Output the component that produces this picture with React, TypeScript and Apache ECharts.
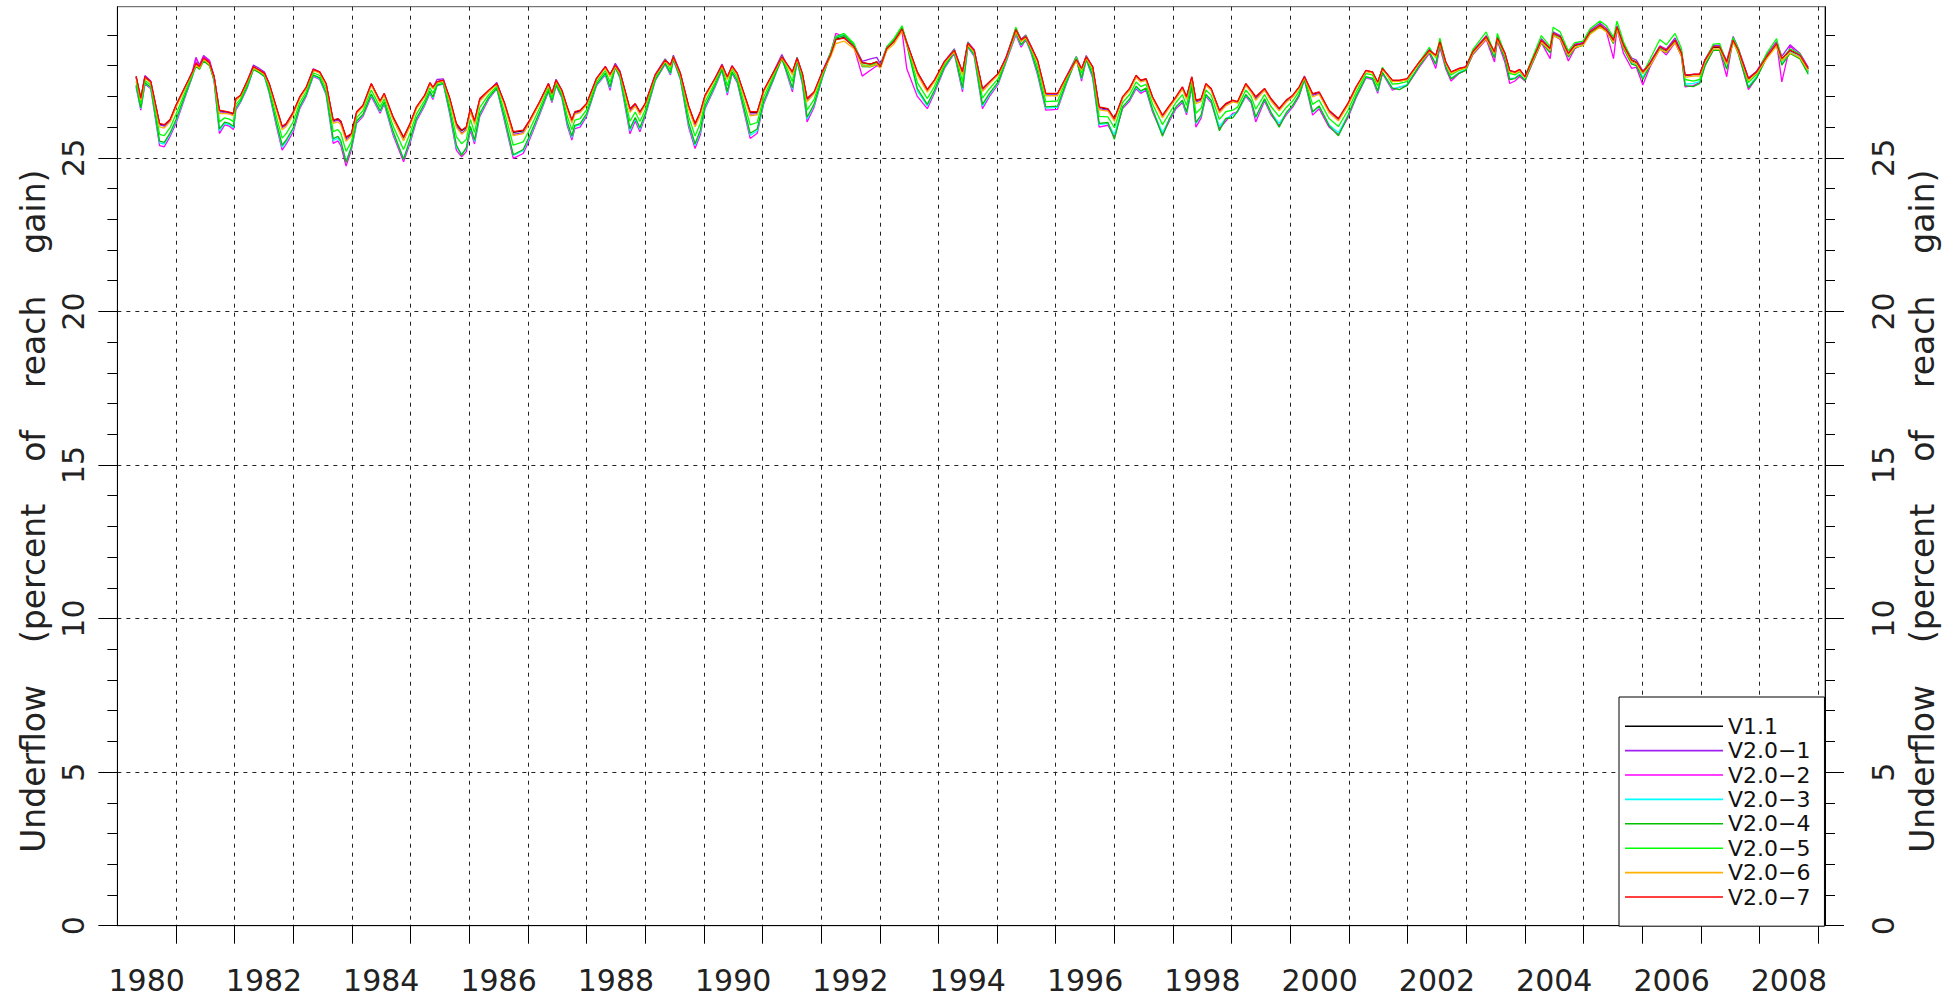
import React, { useEffect, useRef } from "react";
import * as echarts from "echarts";

// Time (decimal years) of the sampled points, shared by all series
const years = [
  1980.32,1980.40,1980.47,1980.57,1980.72,1980.80,1980.90,1981.00,1981.15,1981.28,
  1981.34,1981.40,1981.47,1981.57,1981.65,1981.74,1981.83,1981.91,1981.98,1982.02,
  1982.10,1982.22,1982.32,1982.42,1982.51,1982.59,1982.71,1982.81,1982.88,1983.00,
  1983.11,1983.22,1983.34,1983.45,1983.56,1983.68,1983.76,1983.81,1983.90,1983.99,
  1984.08,1984.19,1984.33,1984.48,1984.55,1984.70,1984.88,1984.99,1985.10,1985.24,
  1985.33,1985.38,1985.45,1985.56,1985.67,1985.78,1985.87,1985.95,1986.02,1986.09,
  1986.18,1986.33,1986.47,1986.60,1986.75,1986.92,1987.03,1987.20,1987.35,1987.41,
  1987.48,1987.58,1987.67,1987.75,1987.80,1987.89,1988.00,1988.17,1988.32,1988.40,
  1988.49,1988.57,1988.74,1988.83,1988.91,1989.00,1989.17,1989.34,1989.43,1989.48,
  1989.60,1989.74,1989.85,1989.94,1990.02,1990.19,1990.31,1990.40,1990.48,1990.57,
  1990.79,1990.91,1991.02,1991.19,1991.33,1991.42,1991.51,1991.59,1991.68,1991.76,
  1991.88,1992.02,1992.16,1992.25,1992.39,1992.56,1992.70,1992.84,1992.95,1993.01,
  1993.12,1993.24,1993.38,1993.46,1993.64,1993.81,1993.93,1994.10,1994.27,1994.41,
  1994.50,1994.61,1994.75,1994.87,1995.02,1995.15,1995.32,1995.41,1995.49,1995.58,
  1995.69,1995.83,1996.03,1996.18,1996.35,1996.44,1996.52,1996.63,1996.74,1996.89,
  1997.00,1997.14,1997.26,1997.37,1997.45,1997.54,1997.65,1997.82,1997.94,1998.05,
  1998.16,1998.23,1998.32,1998.39,1998.48,1998.56,1998.65,1998.79,1998.90,1999.02,
  1999.10,1999.24,1999.33,1999.41,1999.56,1999.67,1999.81,1999.93,2000.04,2000.15,
  2000.24,2000.38,2000.49,2000.66,2000.82,2000.98,2001.12,2001.29,2001.40,2001.49,
  2001.57,2001.74,2001.86,2001.99,2002.20,2002.37,2002.48,2002.55,2002.65,2002.74,
  2002.88,2002.99,2003.11,2003.34,2003.48,2003.53,2003.66,2003.74,2003.83,2003.91,
  2004.00,2004.11,2004.28,2004.43,2004.48,2004.60,2004.74,2004.85,2004.99,2005.11,
  2005.28,2005.39,2005.51,2005.57,2005.68,2005.82,2005.90,2006.01,2006.13,2006.30,
  2006.41,2006.56,2006.67,2006.73,2006.87,2006.98,2007.07,2007.21,2007.32,2007.44,
  2007.55,2007.64,2007.81,2007.95,2008.12,2008.29,2008.38,2008.52,2008.69,2008.83,
];

// V1.1
const v1_1 = [
  27.64,26.92,27.62,27.46,26.10,26.06,26.23,26.70,27.28,27.78,
  28.10,27.96,28.26,28.11,27.63,26.53,26.50,26.47,26.43,26.91,
  27.02,27.51,27.96,27.85,27.74,27.40,26.64,26.01,26.10,26.48,
  26.97,27.28,27.86,27.78,27.40,26.21,26.26,26.18,25.66,25.77,
  26.48,26.70,27.40,26.83,27.08,26.32,25.66,26.10,26.64,27.02,
  27.43,27.28,27.47,27.52,26.91,26.10,25.88,25.99,26.59,26.18,
  26.91,27.18,27.41,26.78,25.83,25.88,26.21,26.81,27.40,27.08,
  27.52,27.18,26.64,26.21,26.48,26.53,26.75,27.57,27.95,27.70,
  28.01,27.78,26.58,26.75,26.48,26.75,27.68,28.17,28.00,28.28,
  27.73,26.68,26.10,26.48,27.02,27.57,28.01,27.62,27.97,27.73,
  26.48,26.48,27.18,27.78,28.29,28.03,27.78,28.23,27.73,26.91,
  27.13,27.78,28.36,28.86,28.91,28.62,28.10,28.05,28.12,27.97,
  28.57,28.79,29.20,28.74,27.78,27.21,27.51,28.11,28.49,27.78,
  28.72,28.48,27.24,27.46,27.73,28.23,29.17,28.82,28.94,28.60,
  28.16,27.08,27.08,27.62,28.21,27.89,28.28,27.95,26.64,26.58,
  26.26,26.97,27.24,27.67,27.51,27.56,26.97,26.37,26.69,26.97,
  27.29,26.97,27.62,26.86,26.91,27.40,27.24,26.53,26.75,26.86,
  26.81,27.40,27.18,26.97,27.24,26.91,26.59,26.86,27.02,27.29,
  27.63,27.07,27.13,26.53,26.26,26.75,27.29,27.83,27.78,27.45,
  27.90,27.51,27.51,27.56,28.10,28.49,28.32,28.77,28.10,27.78,
  27.90,27.95,28.44,28.93,28.43,28.89,28.38,27.83,27.78,27.86,
  27.63,28.11,28.82,28.54,29.04,28.94,28.38,28.66,28.72,29.09,
  29.31,29.15,28.82,29.25,28.66,28.17,28.11,27.79,28.06,28.60,
  28.49,28.82,28.39,27.68,27.71,27.71,28.17,28.60,28.60,28.11,
  28.83,28.49,27.57,27.79,28.29,28.72,28.22,28.50,28.34,27.90,
];

// V2.0-1
const v2_0_1 = [
  27.62,26.90,27.68,27.50,26.07,26.03,26.20,26.67,27.26,27.82,
  28.27,28.02,28.33,28.18,27.66,26.50,26.48,26.45,26.40,26.89,
  27.01,27.52,28.02,27.91,27.79,27.40,26.61,25.98,26.07,26.45,
  26.95,27.27,27.90,27.80,27.38,26.18,26.23,26.15,25.60,25.74,
  26.46,26.68,27.40,26.82,27.07,26.28,25.57,26.06,26.62,27.01,
  27.44,27.27,27.55,27.57,26.88,26.04,25.80,25.93,26.55,26.14,
  26.88,27.18,27.45,26.75,25.76,25.82,26.18,26.79,27.42,27.08,
  27.56,27.19,26.61,26.18,26.45,26.50,26.73,27.59,27.98,27.68,
  28.08,27.82,26.52,26.72,26.45,26.73,27.71,28.22,28.00,28.34,
  27.76,26.64,26.04,26.44,27.00,27.58,28.05,27.59,28.00,27.74,
  26.42,26.44,27.16,27.80,28.36,28.02,27.75,28.28,27.72,26.87,
  27.11,27.81,28.42,28.95,29.00,28.68,28.14,28.22,28.27,28.05,
  28.62,28.85,29.22,28.78,27.74,27.18,27.49,28.13,28.55,27.75,
  28.77,28.52,27.21,27.44,27.73,28.27,29.22,28.86,29.00,28.64,
  28.15,27.05,27.05,27.64,28.30,27.88,28.33,27.95,26.60,26.55,
  26.23,26.95,27.22,27.65,27.49,27.54,26.95,26.34,26.67,26.95,
  27.27,26.94,27.61,26.82,26.88,27.38,27.22,26.50,26.72,26.85,
  26.80,27.38,27.16,26.92,27.22,26.88,26.56,26.83,27.00,27.28,
  27.66,27.03,27.10,26.50,26.23,26.72,27.28,27.84,27.79,27.44,
  27.92,27.50,27.50,27.55,28.12,28.53,28.32,28.80,28.12,27.78,
  27.91,27.96,28.47,28.98,28.44,28.95,28.40,27.83,27.78,27.87,
  27.64,28.14,28.88,28.56,29.10,28.98,28.40,28.70,28.76,29.15,
  29.38,29.22,28.88,29.30,28.70,28.25,28.18,27.82,28.10,28.65,
  28.54,28.90,28.45,27.70,27.72,27.72,28.20,28.66,28.66,28.15,
  28.95,28.56,27.60,27.82,28.35,28.78,28.30,28.68,28.40,27.95,
];

// V2.0-2
const v2_0_2 = [
  27.30,26.55,27.40,27.25,25.40,25.36,25.70,26.12,26.95,27.65,
  28.25,27.95,28.30,28.15,27.50,25.79,26.07,26.03,25.92,26.55,
  26.80,27.30,27.90,27.80,27.65,27.10,26.05,25.25,25.45,25.85,
  26.60,27.00,27.65,27.55,27.05,25.47,25.55,25.40,24.73,25.25,
  26.12,26.35,27.00,26.45,26.75,25.75,24.87,25.47,26.20,26.70,
  27.10,26.90,27.35,27.40,26.40,25.25,25.03,25.20,25.90,25.45,
  26.35,26.90,27.25,26.20,24.98,25.14,25.60,26.40,27.15,26.80,
  27.35,26.95,26.05,25.58,25.95,26.00,26.35,27.35,27.70,27.20,
  27.95,27.60,25.78,26.20,25.85,26.35,27.50,28.05,27.70,28.20,
  27.55,26.00,25.30,25.75,26.60,27.30,27.85,27.04,27.75,27.45,
  25.63,25.80,26.75,27.55,28.30,27.70,27.15,28.15,27.40,26.17,
  26.65,27.60,28.40,29.05,28.95,28.60,27.66,27.85,28.00,27.95,
  28.55,28.85,29.10,27.90,27.00,26.60,27.10,27.90,28.40,27.15,
  28.60,28.30,26.60,27.00,27.40,28.10,29.00,28.60,28.85,28.40,
  27.70,26.55,26.58,27.40,28.25,27.50,28.20,27.60,26.00,26.06,
  25.68,26.60,26.85,27.25,27.10,27.20,26.50,25.75,26.20,26.60,
  26.80,26.40,27.30,26.00,26.30,27.00,26.80,25.95,26.20,26.45,
  26.50,27.00,26.80,26.17,26.85,26.40,26.05,26.40,26.65,27.00,
  27.55,26.39,26.60,26.00,25.75,26.30,26.95,27.60,27.55,27.10,
  27.75,27.20,27.30,27.35,27.95,28.40,27.91,28.60,27.90,27.50,
  27.75,27.85,28.35,28.85,28.12,28.80,28.10,27.42,27.50,27.65,
  27.50,28.00,28.75,28.23,29.00,28.85,28.15,28.55,28.70,29.05,
  29.30,29.10,28.23,29.20,28.40,27.91,27.95,27.37,27.95,28.55,
  28.35,28.75,28.30,27.31,27.35,27.45,28.00,28.50,28.50,27.64,
  28.90,28.40,27.22,27.60,28.30,28.75,27.47,28.65,28.30,27.80,
];

// V2.0-3
const v2_0_3 = [
  27.34,26.60,27.43,27.28,25.49,25.45,25.77,26.19,26.99,27.67,
  28.00,27.90,28.18,28.03,27.51,25.88,26.12,26.08,25.98,26.60,
  26.83,27.33,27.89,27.78,27.64,27.13,26.12,25.34,25.53,25.93,
  26.65,27.04,27.68,27.58,27.09,25.56,25.64,25.50,24.90,25.32,
  26.17,26.40,27.05,26.50,26.79,25.82,24.98,25.55,26.26,26.74,
  27.14,26.95,27.36,27.41,26.47,25.35,25.13,25.30,25.98,25.53,
  26.41,26.94,27.27,26.27,25.08,25.23,25.67,26.45,27.18,26.84,
  27.37,26.98,26.12,25.66,26.02,26.07,26.40,27.38,27.73,27.27,
  27.96,27.62,25.88,26.27,25.93,26.40,27.52,28.07,27.73,28.21,
  27.57,26.08,25.40,25.84,26.65,27.33,27.87,27.11,27.78,27.49,
  25.73,25.88,26.80,27.58,28.25,27.75,27.23,28.16,27.44,26.26,
  26.71,27.62,28.38,28.92,29.00,28.67,28.00,27.99,28.07,27.95,
  28.58,28.85,29.26,28.72,27.18,26.69,27.16,27.93,28.43,27.23,
  28.62,28.33,26.68,27.06,27.44,28.13,29.05,28.66,28.87,28.44,
  27.76,26.62,26.64,27.43,28.22,27.57,28.21,27.65,26.08,26.12,
  25.75,26.65,26.90,27.30,27.15,27.24,26.56,25.82,26.26,26.65,
  26.86,26.46,27.34,26.12,26.37,27.04,26.85,26.02,26.28,26.40,
  26.50,27.04,26.84,26.30,26.90,26.46,26.12,26.45,26.70,27.04,
  27.57,26.48,26.67,26.08,25.82,26.36,27.00,27.63,27.58,27.16,
  27.77,27.25,27.30,27.38,28.00,28.45,28.05,28.70,27.97,27.58,
  27.78,27.87,28.40,28.92,28.27,28.87,28.25,27.58,27.60,27.72,
  27.54,28.04,28.78,28.45,29.03,28.90,28.30,28.60,28.70,29.08,
  29.32,29.14,28.75,29.22,28.58,28.10,28.04,27.62,28.02,28.58,
  28.45,28.80,28.35,27.40,27.42,27.48,28.05,28.54,28.53,27.92,
  28.83,28.42,27.32,27.64,28.28,28.72,28.08,28.45,28.28,27.76,
];

// V2.0-4
const v2_0_4 = [
  27.37,26.63,27.45,27.30,25.54,25.50,25.81,26.24,27.02,27.68,
  27.98,27.88,28.15,28.00,27.52,25.94,26.16,26.12,26.03,26.63,
  26.85,27.35,27.88,27.77,27.65,27.16,26.17,25.41,25.58,25.98,
  26.68,27.06,27.70,27.60,27.12,25.62,25.70,25.56,24.85,25.36,
  26.20,26.42,27.08,26.53,26.82,25.87,24.95,25.60,26.29,26.77,
  27.17,26.98,27.37,27.42,26.51,25.42,25.08,25.33,26.02,25.58,
  26.45,26.96,27.28,26.32,25.10,25.27,25.72,26.49,27.20,26.86,
  27.39,27.00,26.17,25.71,26.06,26.11,26.43,27.40,27.76,27.31,
  27.95,27.64,25.95,26.31,25.98,26.43,27.54,28.08,27.76,28.22,
  27.59,26.14,25.46,25.90,26.69,27.36,27.88,27.16,27.80,27.51,
  25.80,25.94,26.84,27.60,28.22,27.78,27.28,28.17,27.47,26.32,
  26.75,27.64,28.35,28.90,28.98,28.66,27.97,27.96,28.04,27.93,
  28.55,28.82,29.24,28.68,27.25,26.74,27.19,27.95,28.44,27.28,
  28.64,28.35,26.74,27.10,27.47,28.14,29.08,28.68,28.88,28.46,
  27.80,26.66,26.68,27.45,28.20,27.60,28.22,27.68,26.12,26.15,
  25.60,26.66,26.92,27.33,27.18,27.27,26.58,25.70,26.28,26.66,
  26.88,26.49,27.35,26.15,26.40,27.06,26.88,25.88,26.28,26.30,
  26.52,27.06,26.86,26.33,26.92,26.48,26.00,26.47,26.71,27.05,
  27.57,26.50,26.69,26.05,25.72,26.36,27.00,27.64,27.59,27.18,
  27.78,27.27,27.22,27.36,28.00,28.44,28.05,28.70,27.96,27.57,
  27.76,27.85,28.38,28.90,28.25,28.85,28.22,27.55,27.58,27.70,
  27.52,28.02,28.75,28.42,29.00,28.88,28.28,28.58,28.66,29.05,
  29.28,29.12,28.72,29.20,28.55,28.05,28.00,27.55,28.00,28.55,
  28.42,28.78,28.32,27.35,27.32,27.42,28.00,28.50,28.50,27.88,
  28.80,28.38,27.28,27.60,28.25,28.68,28.02,28.40,28.22,27.72,
];

// V2.0-5
const v2_0_5 = [
  27.48,26.75,27.52,27.37,25.76,25.72,25.98,26.42,27.12,27.72,
  28.05,27.93,28.20,28.05,27.56,26.17,26.30,26.26,26.18,26.74,
  26.92,27.42,27.92,27.81,27.69,27.26,26.36,25.64,25.79,26.18,
  26.80,27.15,27.77,27.68,27.24,25.85,25.92,25.80,25.21,25.52,
  26.31,26.54,27.21,26.65,26.92,26.04,25.27,25.80,26.43,26.87,
  27.28,27.10,27.42,27.47,26.67,25.69,25.46,25.60,26.25,25.82,
  26.64,27.05,27.33,26.50,25.41,25.52,25.92,26.62,27.29,26.95,
  27.44,27.08,26.36,25.91,26.23,26.28,26.56,27.47,27.84,27.46,
  27.99,27.70,26.19,26.49,26.18,26.56,27.60,28.20,27.86,28.30,
  27.65,26.35,25.71,26.12,26.82,27.44,27.99,27.34,27.90,27.60,
  26.07,26.15,26.98,27.68,28.30,27.90,27.48,28.26,27.58,26.55,
  26.90,27.70,28.42,28.95,29.05,28.72,28.02,28.02,28.10,27.98,
  28.62,28.88,29.30,28.76,27.45,26.93,27.32,28.03,28.52,27.48,
  28.75,28.42,26.94,27.25,27.58,28.20,29.25,28.80,28.98,28.55,
  27.95,26.83,26.85,27.54,28.28,27.75,28.30,27.80,26.35,26.33,
  25.98,26.80,27.06,27.47,27.32,27.39,26.75,26.08,26.46,26.80,
  27.06,26.70,27.47,26.45,26.62,27.21,27.04,26.25,26.50,26.55,
  26.65,27.21,27.00,26.58,27.06,26.67,26.34,26.64,26.85,27.16,
  27.62,26.74,26.88,26.28,26.02,26.54,27.13,27.74,27.70,27.33,
  27.95,27.40,27.42,27.48,28.12,28.60,28.25,28.90,28.10,27.70,
  27.85,27.92,28.52,29.10,28.40,29.05,28.38,27.75,27.70,27.80,
  27.62,28.18,28.98,28.62,29.25,29.10,28.48,28.75,28.80,29.20,
  29.45,29.30,28.92,29.45,28.78,28.20,28.12,27.75,28.20,28.85,
  28.68,29.05,28.55,27.55,27.50,27.55,28.15,28.70,28.72,28.05,
  28.92,28.55,27.45,27.72,28.40,28.88,28.20,28.55,28.38,27.82,
];

// V2.0-6
const v2_0_6 = [
  27.60,26.88,27.60,27.44,26.01,25.97,26.17,26.63,27.25,27.77,
  28.02,27.92,28.20,28.05,27.60,26.44,26.45,26.42,26.37,26.87,
  27.00,27.50,27.93,27.82,27.71,27.37,26.57,25.91,26.02,26.40,
  26.93,27.26,27.85,27.76,27.36,26.12,26.17,26.08,25.54,25.71,
  26.44,26.66,27.36,26.79,27.05,26.25,25.56,26.02,26.59,26.99,
  27.40,27.24,27.45,27.50,26.85,25.99,25.77,25.89,26.50,26.09,
  26.84,27.15,27.39,26.71,25.72,25.79,26.14,26.77,27.38,27.06,
  27.50,27.16,26.57,26.13,26.42,26.47,26.71,27.55,27.93,27.64,
  27.97,27.76,26.48,26.68,26.40,26.71,27.67,28.14,27.97,28.25,
  27.71,26.60,26.00,26.39,26.97,27.55,27.99,27.55,27.95,27.70,
  26.37,26.40,27.13,27.76,28.24,28.00,27.70,28.20,27.70,26.82,
  27.08,27.76,28.28,28.72,28.80,28.55,28.00,27.98,28.05,27.92,
  28.50,28.70,29.12,28.70,27.70,27.14,27.47,28.09,28.45,27.70,
  28.68,28.45,27.16,27.41,27.70,28.20,29.10,28.78,28.90,28.56,
  28.11,27.02,27.02,27.60,28.14,27.85,28.24,27.91,26.56,26.52,
  26.19,26.93,27.20,27.62,27.47,27.52,26.92,26.30,26.64,26.93,
  27.24,26.90,27.59,26.76,26.84,27.36,27.20,26.46,26.69,26.82,
  26.78,27.36,27.14,26.87,27.20,26.85,26.53,26.81,26.98,27.26,
  27.60,26.98,27.07,26.47,26.20,26.70,27.26,27.81,27.76,27.42,
  27.87,27.48,27.49,27.54,28.08,28.45,28.28,28.72,28.07,27.75,
  27.87,27.92,28.40,28.88,28.40,28.85,28.35,27.79,27.75,27.83,
  27.60,28.06,28.76,28.50,28.98,28.88,28.34,28.60,28.66,29.02,
  29.25,29.10,28.76,29.18,28.60,28.12,28.06,27.74,28.00,28.52,
  28.44,28.75,28.32,27.62,27.66,27.66,28.12,28.55,28.54,28.05,
  28.76,28.43,27.52,27.75,28.22,28.64,28.15,28.42,28.26,27.85,
];

// V2.0-7
const v2_0_7 = [
  27.66,26.94,27.64,27.48,26.12,26.08,26.25,26.72,27.30,27.80,
  28.08,27.97,28.25,28.10,27.64,26.55,26.52,26.49,26.45,26.93,
  27.04,27.53,27.97,27.86,27.75,27.42,26.66,26.03,26.12,26.50,
  26.99,27.30,27.88,27.80,27.42,26.23,26.28,26.20,25.68,25.79,
  26.50,26.72,27.42,26.85,27.10,26.34,25.68,26.12,26.66,27.04,
  27.45,27.30,27.48,27.53,26.93,26.12,25.90,26.01,26.61,26.20,
  26.93,27.20,27.42,26.80,25.85,25.90,26.23,26.83,27.42,27.10,
  27.53,27.20,26.66,26.23,26.50,26.55,26.77,27.59,27.97,27.72,
  28.02,27.80,26.60,26.77,26.50,26.77,27.70,28.18,28.02,28.29,
  27.75,26.70,26.12,26.50,27.04,27.59,28.02,27.64,27.99,27.75,
  26.50,26.50,27.20,27.80,28.29,28.05,27.80,28.24,27.75,26.93,
  27.15,27.80,28.35,28.85,28.90,28.62,28.10,28.05,28.12,27.97,
  28.57,28.78,29.20,28.75,27.80,27.23,27.53,28.13,28.50,27.80,
  28.73,28.50,27.26,27.48,27.75,28.24,29.18,28.84,28.95,28.62,
  28.18,27.10,27.10,27.64,28.20,27.91,28.29,27.97,26.66,26.60,
  26.28,26.99,27.26,27.69,27.53,27.58,26.99,26.39,26.71,26.99,
  27.31,26.99,27.64,26.88,26.93,27.42,27.26,26.55,26.77,26.88,
  26.83,27.42,27.20,26.99,27.26,26.93,26.61,26.88,27.04,27.31,
  27.64,27.09,27.15,26.55,26.28,26.77,27.31,27.85,27.80,27.47,
  27.91,27.53,27.53,27.58,28.12,28.50,28.34,28.78,28.12,27.80,
  27.91,27.96,28.45,28.94,28.45,28.90,28.40,27.85,27.80,27.88,
  27.64,28.12,28.83,28.56,29.05,28.95,28.40,28.67,28.72,29.10,
  29.32,29.16,28.83,29.26,28.67,28.18,28.12,27.80,28.07,28.61,
  28.50,28.83,28.40,27.69,27.72,27.72,28.18,28.61,28.61,28.12,
  28.83,28.50,27.58,27.80,28.29,28.72,28.23,28.50,28.34,27.91,
];

const seriesNames = ["V1.1", "V2.0\u22121", "V2.0\u22122", "V2.0\u22123", "V2.0\u22124", "V2.0\u22125", "V2.0\u22126", "V2.0\u22127"];
const seriesValues = [v1_1, v2_0_1, v2_0_2, v2_0_3, v2_0_4, v2_0_5, v2_0_6, v2_0_7];
const seriesColors = ["#000000", "#a020f0", "#ff00ff", "#00ffff", "#00c000", "#00ff00", "#ffb000", "#ff0000"];

// Axis ticks / labels
const xTickYears = [1981,1982,1983,1984,1985,1986,1987,1988,1989,1990,1991,1992,1993,1994,1995,1996,1997,1998,1999,2000,2001,2002,2003,2004,2005,2006,2007,2008,2009];
const xLabelYears = [1980,1982,1984,1986,1988,1990,1992,1994,1996,1998,2000,2002,2004,2006,2008];
const yTicks = [0, 5, 10, 15, 20, 25];
const yTitle = "Underflow    (percent    of    reach    gain)";

const FONT = "'DejaVu Sans', sans-serif";

export default function App() {
  const ref = useRef<HTMLDivElement>(null);
  useEffect(() => {
    document.body.style.margin = "0";
    document.body.style.overflow = "hidden";
    const chart = echarts.init(ref.current!, undefined, { renderer: "svg" });
    const yAxisBase = (pos: "left" | "right") => ({
      type: "value",
      position: pos,
      min: 0,
      max: 29.92,
      interval: 5,
      axisLine: { show: true, onZero: false, lineStyle: { color: "#000", width: 1 } },
      axisTick: { show: true, length: 19, customValues: yTicks, lineStyle: { color: "#000", width: 1 } },
      minorTick: { show: true, splitNumber: 5, length: 10, lineStyle: { color: "#000", width: 1 } },
      axisLabel: {
        customValues: yTicks,
        rotate: 90,
        fontSize: 30,
        fontFamily: FONT,
        color: "#222",
        margin: pos === "left" ? 29 : 43,
      },
      splitLine: pos === "left" ? { show: true, lineStyle: { color: "#222", type: [4, 5], width: 1 } } : { show: false },
      name: yTitle,
      nameLocation: "middle",
      nameRotate: 90,
      nameGap: pos === "left" ? 66 : 79,
      nameTextStyle: { fontSize: 33, fontFamily: FONT, color: "#222", padding: [0, 90, 0, 0] },
    });
    const option: any = {
      animation: false,
      backgroundColor: "#ffffff",
      grid: {
        left: 117.35,
        right: 125,
        top: 6.7,
        bottom: 72.3,
        show: true,
        borderColor: "#555",
        borderWidth: 1,
        backgroundColor: "transparent",
      },
      legend: {
        orient: "vertical",
        left: 1619,
        top: 697,
        icon: "rect",
        itemWidth: 98,
        itemHeight: 1.6,
        itemGap: 0,
        padding: [17, 14, 17, 6],
        backgroundColor: "#ffffff",
        borderColor: "#000",
        borderWidth: 1,
        textStyle: { fontSize: 22, fontFamily: FONT, color: "#111", lineHeight: 24.4 },
        data: seriesNames,
        selectedMode: false,
      },
      xAxis: {
        type: "value",
        min: 1980,
        max: 2009.116,
        interval: 1,
        axisLine: { show: true, onZero: false, lineStyle: { color: "#000", width: 1 } },
        axisTick: { show: true, length: 18, customValues: xTickYears, lineStyle: { color: "#000", width: 1 } },
        axisLabel: {
          customValues: xLabelYears.map((y) => y + 0.5),
          formatter: (v: number) => String(Math.floor(v)),
          fontSize: 30,
          fontFamily: FONT,
          color: "#222",
          margin: 40,
        },
        splitLine: { show: true, lineStyle: { color: "#222", type: [4, 5], width: 1 } },
      },
      yAxis: [yAxisBase("left"), yAxisBase("right")],
      series: seriesNames.map((name, i) => ({
        name,
        type: "line",
        data: years.map((t, j) => [t, seriesValues[i][j]]),
        showSymbol: false,
        symbol: "none",
        silent: true,
        lineStyle: { width: 1.3, color: seriesColors[i] },
        itemStyle: { color: seriesColors[i] },
        z: 2 + i,
      })),
    };
    chart.setOption(option);
    return () => chart.dispose();
  }, []);
  return <div ref={ref} style={{ width: 1950, height: 998 }} />;
}
